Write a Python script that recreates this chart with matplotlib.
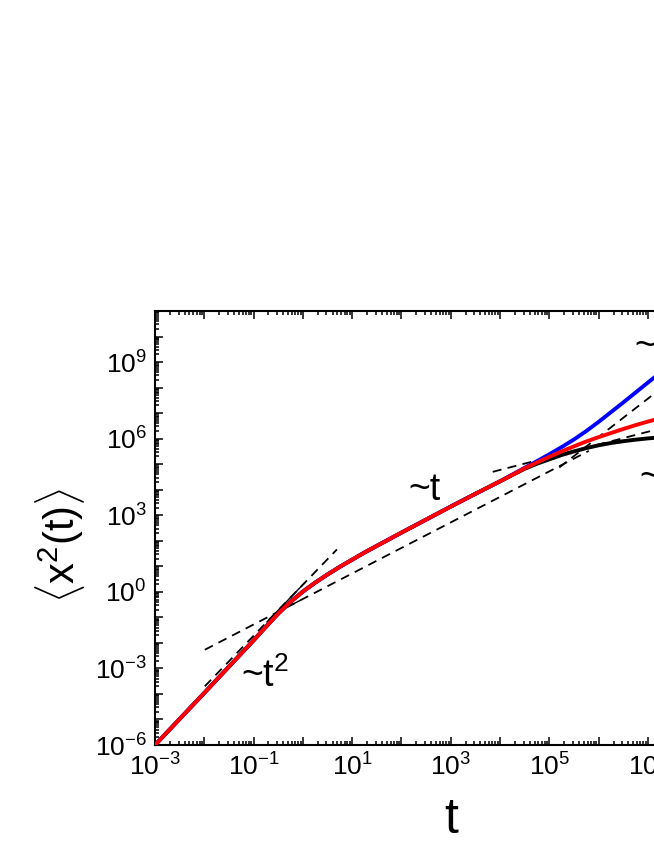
import numpy as np
import matplotlib
matplotlib.use("Agg")
import matplotlib.pyplot as plt
from matplotlib.ticker import LogLocator, FuncFormatter, NullFormatter

plt.rcParams['font.family'] = ['Liberation Sans', 'DejaVu Sans']
plt.rcParams['mathtext.fontset'] = 'custom'
plt.rcParams['mathtext.rm'] = 'Liberation Sans'
plt.rcParams['mathtext.it'] = 'Liberation Sans'
plt.rcParams['mathtext.bf'] = 'Liberation Sans:bold'
plt.rcParams['axes.unicode_minus'] = False

# ---- data (log10 values) ----
log_t = [-3, -2.5, -2, -1.5, -1, -0.75, -0.5, -0.25, 0, 0.25, 0.5, 0.75, 1, 1.25, 1.5,
         2, 2.5, 3, 3.5, 4, 4.5, 4.75, 5, 5.25, 5.5, 5.75, 6, 6.25, 6.5, 6.75, 7, 7.3]
log_red = [-6.0, -4.98, -3.96, -2.93, -1.90, -1.37, -0.85, -0.39, 0.01, 0.36, 0.68, 0.98, 1.26, 1.54, 1.80,
           2.32, 2.83, 3.34, 3.84, 4.33, 4.84, 5.07, 5.29, 5.50, 5.70, 5.89, 6.06, 6.22, 6.38, 6.53, 6.67, 6.83]
log_blue = [-6.0, -4.98, -3.96, -2.93, -1.90, -1.37, -0.85, -0.39, 0.01, 0.36, 0.68, 0.98, 1.26, 1.54, 1.80,
            2.32, 2.83, 3.34, 3.84, 4.33, 4.86, 5.12, 5.39, 5.67, 5.97, 6.30, 6.66, 7.04, 7.42, 7.81, 8.20, 8.66]
log_black = [-6.0, -4.98, -3.96, -2.93, -1.90, -1.37, -0.85, -0.39, 0.01, 0.36, 0.68, 0.98, 1.26, 1.54, 1.80,
             2.32, 2.83, 3.34, 3.84, 4.33, 4.82, 5.02, 5.19, 5.36, 5.50, 5.63, 5.74, 5.83, 5.90, 5.96, 6.01, 6.06]

# guide lines (endpoints, log10)
fit_t2_t = [-1.99, 0.69]
fit_t2_y = [-3.70, 1.66]
fit_t1_t = [-1.99, 5.8]
fit_t1_y = [-2.27, 5.52]
fit_t15_t = [5.2, 7.6]
fit_t15_y = [4.87, 8.47]
fit_t05_t = [3.85, 7.6]
fit_t05_y = [4.70, 6.57]
# short solid parts of the guide lines near their crossing
solid_t2_t = [-0.73, 0.04]
solid_t2_y = [-1.18, 0.36]
solid_t1_t = [-0.50, -0.06]
solid_t1_y = [-0.78, -0.34]

x_ticklabel_exps = [-3, -1, 1, 3, 5, 7, 9]
y_ticklabel_exps = [-6, -3, 0, 3, 6, 9]

def p(v):
    return np.power(10.0, np.asarray(v, dtype=float))

W, H = 654, 846
fig = plt.figure(figsize=(W / 100, H / 100), dpi=100)
ax = fig.add_axes([155 / W, 101 / H, 591.6 / W, 434 / H])
ax.set_xscale('log')
ax.set_yscale('log')
ax.set_xlim(1e-3, 1e9)
ax.set_ylim(1e-6, 1e11)

dash = (0, (5, 3.5))
for tt, yy in [(fit_t2_t, fit_t2_y), (fit_t1_t, fit_t1_y), (fit_t15_t, fit_t15_y), (fit_t05_t, fit_t05_y)]:
    ax.plot(p(tt), p(yy), color='black', lw=1.3, linestyle=dash, zorder=2)
for tt, yy in [(solid_t2_t, solid_t2_y), (solid_t1_t, solid_t1_y)]:
    ax.plot(p(tt), p(yy), color='black', lw=1.0, zorder=2)

ax.plot(p(log_t), p(log_black), color='black', lw=2.8, zorder=3, solid_joinstyle='round')
ax.plot(p(log_t), p(log_blue), color='#0000ff', lw=2.8, zorder=4, solid_joinstyle='round')
ax.plot(p(log_t), p(log_red), color='#ff0000', lw=2.8, zorder=5, solid_joinstyle='round')

# ticks
ax.xaxis.set_major_locator(LogLocator(base=10, subs=(1.0,), numticks=40))
ax.xaxis.set_minor_locator(LogLocator(base=10, subs=np.arange(2, 10), numticks=40))
ax.yaxis.set_major_locator(LogLocator(base=10, subs=(1.0,), numticks=40))
ax.yaxis.set_minor_locator(LogLocator(base=10, subs=np.arange(2, 10), numticks=40))

def xfmt(v, pos):
    e = int(round(np.log10(v)))
    return r'$10^{%d}$' % e if e in x_ticklabel_exps else ''

def yfmt(v, pos):
    e = int(round(np.log10(v)))
    return r'$10^{%d}$' % e if e in y_ticklabel_exps else ''

ax.xaxis.set_major_formatter(FuncFormatter(xfmt))
ax.yaxis.set_major_formatter(FuncFormatter(yfmt))
ax.xaxis.set_minor_formatter(NullFormatter())
ax.yaxis.set_minor_formatter(NullFormatter())
ax.tick_params(which='both', direction='in', top=True, right=True, width=1.1, labelsize=19)
ax.tick_params(which='major', length=6)
ax.tick_params(which='minor', length=3)
ax.tick_params(axis='x', which='major', pad=6)
ax.tick_params(axis='y', which='major', pad=6)
for s in ax.spines.values():
    s.set_linewidth(1.5)

ax.set_xlabel('t', fontsize=36, labelpad=12)
fig.text(60 / W, 1 - 545 / H, r'$\langle$x$^2$(t)$\rangle$', rotation=90, fontsize=30,
         ha='center', va='center')

# annotations
fig.text(408 / W, 1 - 500 / H, '~t', fontsize=27, ha='left', va='baseline')
fig.text(241 / W, 1 - 687 / H, '~t$^2$', fontsize=27, ha='left', va='baseline')
fig.text(634 / W, 1 - 358 / H, '~t$^{3/2}$', fontsize=27, ha='left', va='baseline')
fig.text(639 / W, 1 - 489 / H, '~t$^{1/2}$', fontsize=27, ha='left', va='baseline')

fig.savefig('out.png', dpi=100)
